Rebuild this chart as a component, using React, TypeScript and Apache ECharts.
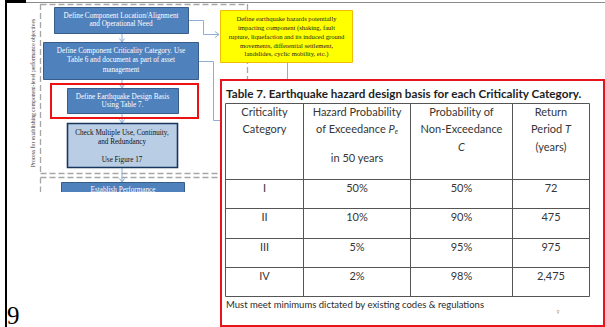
import React, { useEffect, useRef } from 'react';
import * as echarts from 'echarts';

// ---------- data ----------
const categories = ['I', 'II', 'III', 'IV'];
const exceedance = ['50%', '10%', '5%', '2%'];
const nonExceedance = ['50%', '90%', '95%', '98%'];
const returnPeriod = ['72', '475', '975', '2,475'];
const tableTitle = 'Table 7. Earthquake hazard design basis for each Criticality Category.';
const footnote = 'Must meet minimums dictated by existing codes & regulations';
const pageNumber = '9';
const smallPageNumber = '9';
const sideLabel = 'Process for establishing component-level performance objectives';
const step1 = ['Define Component Location/Alignment', 'and Operational Need'];
const step2 = ['Define Component Criticality Category. Use', 'Table 6 and document as part of asset', 'management'];
const step3 = ['Define Earthquake Design Basis', 'Using Table 7.'];
const step4 = ['Check Multiple Use, Continuity,', 'and Redundancy', '', 'Use Figure 17'];
const step5 = ['Establish Performance'];
const hazardNote = [
  'Define earthquake hazards potentially',
  'impacting component (shaking, fault',
  'rupture, liquefaction and its induced ground',
  'movements, differential settlement,',
  'landslides, cyclic mobility, etc.)',
];
const headerCol1 = ['Criticality', 'Category'];
const headerCol2 = ['Hazard Probability', '{n|of Exceedance }{i|P}{s|e}', '', 'in 50 years'];
const headerCol3 = ['Probability of', 'Non-Exceedance', '{i|C}'];
const headerCol4 = ['Return', '{n|Period }{i|T}', '(years)'];

// ---------- layout ----------
const SERIF = '"Liberation Serif", "Times New Roman", serif';
const SANS = 'Lato, "Open Sans", sans-serif';
const colX = [225.5, 303.5, 410.5, 512.5, 589.5];
const rowY = [103.5, 179.5, 208.5, 238.5, 267.5, 296.5];
const TABLE_TEXT = '#363636';
const BOX_BLUE = '#4f81bd';
const BOX_BLUE_BORDER = '#385d8a';
const CONNECTOR = '#8eaed6';
const DASH = '#a6a6a6';
const TFS = 11;

function txt(x: number, y: number, text: string, o: any = {}) {
  return {
    type: 'text',
    x,
    y,
    z: o.z ?? 10,
    rotation: o.rotation ?? 0,
    style: {
      text,
      fill: o.fill ?? '#000',
      fontSize: o.fontSize ?? 10,
      fontFamily: o.fontFamily ?? SANS,
      fontWeight: o.fontWeight ?? 'normal',
      fontStyle: o.fontStyle ?? 'normal',
      align: o.align ?? 'center',
      textAlign: o.align ?? 'center',
      verticalAlign: o.verticalAlign ?? 'middle',
      textVerticalAlign: o.verticalAlign ?? 'middle',
      rich: o.rich,
    },
  };
}

function line(x1: number, y1: number, x2: number, y2: number, stroke: string, lineWidth = 1, z = 5, lineDash?: number[]) {
  return {
    type: 'line',
    z,
    shape: { x1, y1, x2, y2 },
    style: { stroke, lineWidth, lineDash },
  };
}

function poly(points: number[][], stroke: string, lineWidth = 1, z = 5) {
  return { type: 'polyline', z, shape: { points }, style: { stroke, lineWidth, fill: 'none' } };
}

function rect(x: number, y: number, w: number, h: number, fill: string, stroke?: string, lineWidth = 1, z = 5) {
  return {
    type: 'rect',
    z,
    shape: { x, y, width: w, height: h },
    style: { fill, stroke: stroke ?? 'none', lineWidth },
  };
}

function downArrow(x: number, y1: number, y2: number) {
  return [
    line(x, y1, x, y2, CONNECTOR, 1, 3),
    poly([[x - 2.5, y2 - 3.5], [x, y2], [x + 2.5, y2 - 3.5]], CONNECTOR, 1, 3),
  ];
}

function boxLines(lines: string[], cx: number, y0: number, dy: number, fill: string, fontSize = 7.2) {
  return lines
    .map((t, i) => (t ? txt(cx, y0 + i * dy, t, { fill, fontSize, fontFamily: SERIF, z: 7 }) : null))
    .filter(Boolean);
}

function buildGraphics() {
  const g: any[] = [];
  // page frame
  g.push(rect(0, 0, 605, 327, '#ffffff', undefined, 0, 0));
  g.push(rect(5, 0, 2, 327, '#000', undefined, 0, 20));
  g.push(rect(5, 0, 21, 3, '#000', undefined, 0, 20));
  g.push(line(26, 2.5, 605, 2.5, '#8a8a8a', 1, 20));

  // dashed group boxes
  g.push(line(40.5, 4, 40.5, 173, DASH, 1.3, 2, [6, 3]));
  g.push(line(40.5, 4.5, 247, 4.5, DASH, 1.3, 2, [6, 3]));
  g.push(line(247.5, 4, 247.5, 173, DASH, 1.3, 2, [6, 3]));
  g.push(line(40.5, 173.5, 247, 173.5, DASH, 1.3, 2, [6, 3]));
  g.push(line(40.5, 177.5, 247, 177.5, DASH, 1.3, 2, [6, 3]));
  g.push(line(40.5, 177.5, 40.5, 200, DASH, 1.3, 2, [6, 3]));

  // side label
  g.push(txt(33, 93, sideLabel, { rotation: Math.PI / 2, fontSize: 5.7, fontFamily: SERIF, fill: '#333', z: 7 }));

  // connectors
  g.push(...downArrow(122, 33, 42));
  g.push(...downArrow(122, 79, 88));
  g.push(...downArrow(122, 113, 123));
  g.push(...downArrow(122, 167, 182));
  g.push(poly([[188, 20.5], [203.5, 20.5], [203.5, 34.5], [219, 34.5]], CONNECTOR, 1, 3));
  g.push(poly([[215, 31.5], [219, 34.5], [215, 37.5]], CONNECTOR, 1, 3));
  g.push(poly([[199, 61.5], [213.5, 61.5], [213.5, 120.5], [221, 120.5]], CONNECTOR, 1, 3));
  g.push(line(287.5, 62, 287.5, 82, CONNECTOR, 1, 3));

  // flow boxes
  g.push(rect(54.5, 7.5, 134, 26, BOX_BLUE, BOX_BLUE_BORDER, 1, 6));
  g.push(...boxLines(step1, 121, 16, 8.4, '#fff'));
  g.push(rect(43.5, 42.5, 155, 37, BOX_BLUE, BOX_BLUE_BORDER, 1, 6));
  g.push(...boxLines(step2, 121, 50.5, 9.8, '#fff'));
  g.push(rect(67.5, 88.5, 111, 25, BOX_BLUE, BOX_BLUE_BORDER, 1, 6));
  g.push(...boxLines(step3, 122.5, 97, 8.4, '#fff'));
  g.push(rect(51, 84, 147, 34, 'none', '#ee1111', 2, 8));
  g.push(rect(67.5, 123.5, 110, 44, '#b9cde5', '#17375e', 1.6, 6));
  g.push(...boxLines(step4, 122, 133, 9, '#111'));
  g.push(rect(61.5, 182.5, 123, 20, BOX_BLUE, BOX_BLUE_BORDER, 1, 6));
  g.push(...boxLines(step5, 123, 190, 8.4, '#fff'));
  // crop of the flowchart picture
  g.push(rect(8, 192, 211, 135, '#ffffff', undefined, 0, 9));

  // yellow note
  g.push(rect(220.5, 10.5, 132, 52, '#ffff00', '#f0be00', 1, 6));
  hazardNote.forEach((t, i) => g.push(txt(286.5, 18.3 + i * 8.9, t, { fontSize: 6.6, fontFamily: SERIF, fill: '#222', z: 7 })));

  // table panel
  g.push(rect(221, 80, 383, 246, '#ffffff', '#e8141c', 2, 10));
  g.push(txt(226, 93, tableTitle, { align: 'left', fontSize: 11.7, fontWeight: 'bold', fill: '#1e1e1e', z: 12 }));

  // table grid
  colX.forEach((x) => g.push(line(x, rowY[0], x, rowY[rowY.length - 1], '#555', 1, 11)));
  rowY.forEach((y) => g.push(line(colX[0], y, colX[colX.length - 1], y, '#555', 1, 11)));

  const rich = {
    n: { fontSize: TFS, fontFamily: SANS, fill: TABLE_TEXT },
    i: { fontSize: TFS, fontFamily: SANS, fontStyle: 'italic', fill: TABLE_TEXT },
    s: { fontSize: 6.8, fontFamily: SANS, fontStyle: 'italic', fill: TABLE_TEXT, padding: [6, 0, 0, 0] },
  };
  const headerCols = [headerCol1, headerCol2, headerCol3, headerCol4];
  const headerYs = [
    [111, 128],
    [111, 128, 142, 157],
    [111, 128, 146],
    [111, 128, 146],
  ];
  headerCols.forEach((col, ci) => {
    const cx = (colX[ci] + colX[ci + 1]) / 2;
    col.forEach((t, li) => {
      if (!t) return;
      g.push(txt(cx, headerYs[ci][li], t, { fontSize: TFS, fill: TABLE_TEXT, rich, z: 12 }));
    });
  });

  const columns = [categories, exceedance, nonExceedance, returnPeriod];
  columns.forEach((col, ci) => {
    const cx = (colX[ci] + colX[ci + 1]) / 2;
    col.forEach((v, ri) => {
      g.push(txt(cx, rowY[ri + 1] + 8, v, { fontSize: TFS, fill: TABLE_TEXT, z: 12 }));
    });
  });

  g.push(txt(226, 304, footnote, { align: 'left', fontSize: 9.5, fill: '#2a2a2a', z: 12 }));
  g.push(txt(558, 312, smallPageNumber, { fontSize: 5, fill: '#999', z: 12 }));

  // large page number
  g.push(txt(7, 315, pageNumber, { align: 'left', fontSize: 25, fontFamily: SERIF, fill: '#000', z: 20 }));
  return g;
}

export default function App() {
  const ref = useRef<HTMLDivElement>(null);
  useEffect(() => {
    if (!ref.current) return;
    const chart = echarts.init(ref.current, undefined, { renderer: 'svg' });
    chart.setOption({
      animation: false,
      backgroundColor: '#ffffff',
      graphic: { elements: buildGraphics() },
    });
    return () => chart.dispose();
  }, []);
  return (
    <div
      ref={ref}
      style={{ position: 'fixed', left: 0, top: 0, width: 605, height: 327, background: '#fff' }}
    />
  );
}
